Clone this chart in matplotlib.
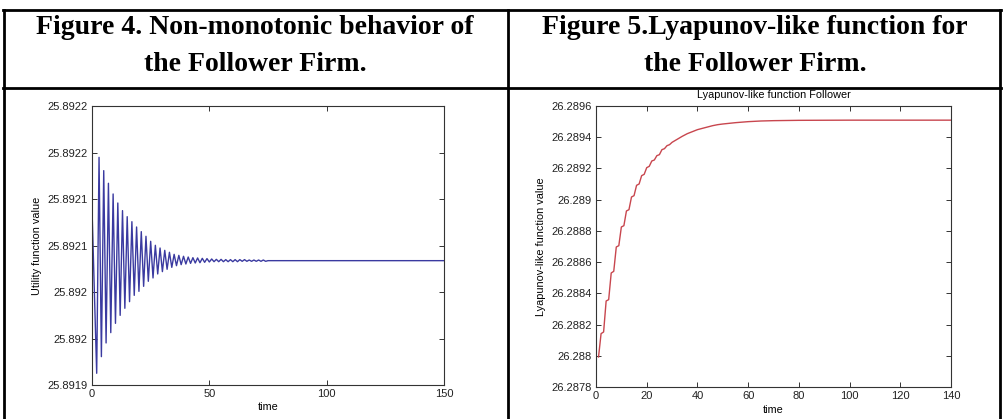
import numpy as np
import matplotlib
matplotlib.use("Agg")
from matplotlib import pyplot as plt
from matplotlib.lines import Line2D

# ---- data ----
# Figure 4: utility of the follower, alternating (period 2) damped zigzag, then flat
util_vals = [25.8920899, 25.8920011, 25.8919126, 25.8921448, 25.8919305, 25.8921305,
             25.8919452, 25.8921169, 25.8919563, 25.8921054, 25.8919663, 25.8920957,
             25.8919749, 25.8920875, 25.8919825, 25.8920810, 25.8919896, 25.8920756,
             25.8919964, 25.8920699, 25.8920007, 25.8920649, 25.8920061, 25.8920599,
             25.8920115, 25.8920545, 25.8920151, 25.8920502, 25.8920194, 25.8920473,
             25.8920219, 25.8920448, 25.8920244, 25.8920427, 25.8920265, 25.8920405,
             25.8920283, 25.8920394, 25.8920294, 25.8920384, 25.8920301, 25.8920376,
             25.8920308, 25.8920369, 25.8920312, 25.8920366, 25.8920315, 25.8920362,
             25.8920319, 25.8920359, 25.8920323, 25.8920355, 25.8920326, 25.8920351,
             25.8920326, 25.8920351, 25.8920326, 25.8920348, 25.8920326, 25.8920348,
             25.8920326, 25.8920348, 25.8920326, 25.8920348, 25.8920330, 25.8920348,
             25.8920330, 25.8920344, 25.8920330, 25.8920344, 25.8920330, 25.8920344,
             25.8920330, 25.8920344, 25.8920330, 25.8920337, 25.8920337]
util_time = list(range(len(util_vals) - 1)) + [150]
util_ticks = [25.8919, 25.89195, 25.8920, 25.89205, 25.8921, 25.89215, 25.8922]
util_ticklabels = ["25.8919", "25.892", "25.892", "25.8921", "25.8921", "25.8922", "25.8922"]

# Figure 5: Lyapunov-like function of the follower (small stairs while rising)
lyap_time = list(range(1, 31)) + [32, 34, 36, 38, 40, 42, 44, 46, 48, 50,
                                  55, 60, 65, 70, 80, 100, 140]
lyap_vals = [26.2879923, 26.2881418, 26.2881525, 26.2883510, 26.2883596, 26.2885304,
             26.2885410, 26.2886969, 26.2887054, 26.2888250, 26.2888335, 26.2889275,
             26.2889360, 26.2890171, 26.2890257, 26.2890919, 26.2891004, 26.2891538,
             26.2891623, 26.2892050, 26.2892136, 26.2892477, 26.2892541, 26.2892819,
             26.2892883, 26.2893203, 26.2893267, 26.2893459, 26.2893523, 26.2893673,
             26.2893865, 26.2894057, 26.2894228, 26.2894356, 26.2894484, 26.2894570,
             26.2894655, 26.2894740, 26.2894804, 26.2894847, 26.2894932, 26.2894997,
             26.2895039, 26.2895061, 26.2895082, 26.2895093, 26.2895093]
lyap_ticks = [26.2878, 26.2880, 26.2882, 26.2884, 26.2886, 26.2888,
              26.2890, 26.2892, 26.2894, 26.2896]
lyap_ticklabels = ["26.2878", "26.288", "26.2882", "26.2884", "26.2886", "26.2888",
                   "26.289", "26.2892", "26.2894", "26.2896"]

headers = [["Figure 4. Non-monotonic behavior of", "the Follower Firm."],
           ["Figure 5.Lyapunov-like function for", "the Follower Firm."]]

W, H = 1004, 419
fig = plt.figure(figsize=(W / 100, H / 100), dpi=100)
fig.patch.set_facecolor("white")

def fx(px):
    return px / W

def fy(py):
    return 1 - py / H

# table borders
for (x0, y0, x1, y1) in [(3, 10, 1001, 10), (3, 88, 1001, 88),
                         (4, 10, 4, 419), (508, 10, 508, 419), (1000, 10, 1000, 419)]:
    fig.add_artist(Line2D([fx(x0), fx(x1)], [fy(y0), fy(y1)], color="black",
                          lw=2.0, transform=fig.transFigure))

# header texts, two lines per cell
for cx, lines in zip([255, 755], headers):
    for cy, txt in zip([28, 64], lines):
        fig.text(fx(cx), fy(cy), txt, ha="center", va="center", fontsize=20,
                 family="Liberation Serif", fontweight="bold")

small = dict(family="Liberation Sans", fontsize=7.8)

def style(ax):
    for s in ax.spines.values():
        s.set_linewidth(0.8)
        s.set_color("#333333")
    ax.tick_params(direction="in", length=3.5, width=0.7, top=True, right=True,
                   colors="#333333", labelsize=8, pad=3)
    for lab in ax.get_xticklabels() + ax.get_yticklabels():
        lab.set_family("Liberation Sans")
        lab.set_color("#222222")

ax1 = fig.add_axes([fx(92), fy(385), fx(444) - fx(92), fy(106) - fy(385)])
ax1.plot(util_time, util_vals, color="#3a3aa0", lw=1.0)
ax1.set_xlim(0, 150)
ax1.set_ylim(25.8919, 25.8922)
ax1.set_xticks([0, 50, 100, 150])
ax1.set_yticks(util_ticks)
ax1.set_yticklabels(util_ticklabels)
ax1.set_xlabel("time", labelpad=2, **small)
ax1.set_ylabel("Utility function value", labelpad=4, **small)
style(ax1)

ax2 = fig.add_axes([fx(596), fy(387), fx(951) - fx(596), fy(106) - fy(387)])
ax2.plot(lyap_time, lyap_vals, color="#c8464e", lw=1.0)
ax2.set_xlim(0, 140)
ax2.set_ylim(26.2878, 26.2896)
ax2.set_xticks(range(0, 141, 20))
ax2.set_yticks(lyap_ticks)
ax2.set_yticklabels(lyap_ticklabels)
ax2.set_xlabel("time", labelpad=3, **small)
ax2.set_ylabel("Lyapunov-like function value", labelpad=4, **small)
ax2.set_title("Lyapunov-like function Follower", pad=6, **small)
style(ax2)

fig.savefig("out.png", dpi=100)
